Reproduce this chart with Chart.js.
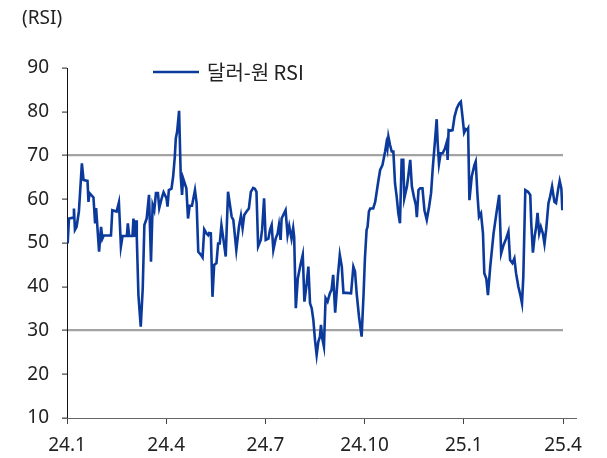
<!DOCTYPE html>
<html>
<head>
<meta charset="utf-8">
<script src="https://cdn.jsdelivr.net/npm/chart.js@4"></script>
<style>
body { margin: 0; background: #fff; }
</style>
</head>
<body>
<canvas id="Chart" width="607" height="458"></canvas>
<script>
//x positions are months since Jan 2024 (0 = 24.1, 15 = 25.4)
var months = [
    0.02,0.06,0.19,0.21,0.24,0.29,0.36,0.45,0.50,0.62,0.65,0.68,0.80,0.85,0.88,0.97,1.03,1.07,1.11,1.33,
    1.37,1.50,1.57,1.63,1.68,1.81,1.84,1.88,1.98,2.01,2.06,2.09,2.11,2.16,2.23,2.29,2.34,2.41,2.48,2.54,
    2.59,2.64,2.69,2.75,2.79,2.87,2.92,
    3.01,3.04,3.08,3.16,3.21,3.26,3.29,3.33,3.39,3.44,3.48,3.51,3.61,3.66,3.71,3.78,3.87,3.92,3.97,4.05,
    4.10,4.15,4.22,4.27,4.30,4.35,4.40,4.45,4.52,4.57,4.62,4.67,4.74,4.80,4.87,4.98,5.03,5.12,5.20,5.26,
    5.31,5.36,5.43,5.50,5.56,5.63,5.68,5.73,5.78,5.86,5.90,5.96,6.01,
    6.09,6.14,6.19,6.24,6.31,6.37,6.41,6.46,6.49,6.54,6.61,6.67,6.72,6.79,6.84,6.87,6.92,6.98,7.05,7.13,
    7.18,7.25,7.30,7.35,7.40,7.45,7.50,7.55,7.60,7.65,7.68,7.72,7.77,7.82,7.88,7.95,8.00,8.05,8.11,8.19,
    8.25,8.31,8.36,8.46,8.59,8.66,8.71,8.76,8.83,8.91,8.97,
    9.01,9.06,9.09,9.13,9.17,9.26,9.32,9.42,9.47,9.54,9.62,9.66,9.69,9.72,9.77,9.82,9.87,9.92,9.97,10.02,
    10.07,10.12,10.17,10.20,10.28,10.32,10.38,10.43,10.49,10.55,10.58,10.63,10.68,10.75,10.81,10.88,10.95,
    11.01,11.06,11.13,11.18,11.21,11.25,11.30,11.36,11.43,11.49,11.51,11.54,11.61,11.66,11.72,11.79,11.86,11.91,11.96,12.01,
    12.06,12.10,12.13,12.17,12.24,12.32,12.36,12.41,12.46,12.52,12.58,12.62,12.68,12.73,12.80,12.90,13.00,13.07,13.13,13.20,
    13.28,13.35,13.40,13.47,13.53,13.58,13.65,13.71,13.76,13.80,13.86,13.94,14.01,14.04,14.09,14.14,14.19,14.23,14.28,14.33,
    14.39,14.44,14.49,14.56,14.61,14.67,14.74,14.79,14.85,14.90,14.95,14.98
];
//dollar-won RSI value at each of the positions above
var rsi = [
    49.9,55.6,55.8,57.9,53.0,53.7,57.2,68.2,64.4,64.2,59.4,61.4,60.4,54.5,58.0,48.0,53.7,51.0,51.7,51.7,
    57.5,57.2,59.3,49.2,51.6,51.6,54.5,51.6,51.6,55.6,51.4,55.2,51.5,38.1,30.9,39.6,54.1,55.6,61.0,45.7,
    58.7,57.5,61.4,61.4,58.0,60.4,61.6,
    60.2,58.3,62.1,62.4,65.2,69.7,73.9,75.4,80.2,65.2,61.0,64.8,62.5,55.6,58.5,58.5,62.1,59.1,48.0,47.3,
    46.7,53.1,52.2,51.8,52.3,52.2,37.7,45.0,45.4,49.9,49.9,54.1,50.3,46.9,61.7,56.0,55.3,48.4,53.7,56.2,
    53.4,56.4,57.2,57.9,61.7,62.6,62.4,61.7,49.2,50.7,53.0,60.2,50.7,
    51.0,53.0,54.1,48.4,51.0,52.2,54.1,50.7,55.6,56.4,57.5,51.8,53.9,51.0,53.4,51.4,35.1,41.9,44.6,47.3,
    36.6,40.8,44.6,36.2,35.1,32.4,27.8,24.4,27.4,28.6,31.3,28.2,26.3,37.4,36.6,38.5,39.3,42.7,34.1,42.3,
    47.3,44.6,38.6,38.6,38.5,44.6,43.5,38.5,33.2,28.6,38.5,
    46.5,53.0,53.7,57.2,57.9,57.9,59.4,64.4,66.7,67.8,70.9,72.8,71.6,74.3,72.4,70.9,70.9,63.6,60.6,56.8,
    54.5,69.0,69.0,60.2,62.9,65.2,69.0,62.9,60.6,58.7,55.9,62.1,62.5,62.5,57.5,55.3,58.3,
    61.4,67.0,73.5,78.3,72.8,68.1,70.5,70.5,71.6,73.2,69.0,75.8,75.7,75.8,78.9,80.8,81.9,82.3,78.9,75.2,
    76.0,75.8,76.2,59.8,65.2,67.8,68.6,61.4,56.0,56.8,52.2,43.1,41.9,38.1,44.6,52.2,57.5,61.0,47.6,49.5,
    51.0,52.6,46.1,45.4,46.5,43.1,40.0,38.1,36.2,42.3,62.1,61.7,61.0,54.5,47.8,51.4,53.7,56.9,52.2,53.7,
    52.2,49.8,53.0,59.1,60.6,62.9,59.4,59.1,62.1,64.2,62.5,57.5
];
//x tick labels, one every 3 months
var tickLabels = ['24.1', '24.4', '24.7', '24.10', '25.1', '25.4'];
//overbought / oversold lines
var refLevels = [30, 70];
var seriesName = '달러-원 RSI';
var unitLabel = '(RSI)';

var lineColor = '#0b3a9c';
var textColor = '#222222';
var tickFont = { family: '"Noto Sans", "Open Sans", sans-serif', size: 19 };

//pairs the month positions with the rsi values for a linear x axis
var points = months.map(function (m, i) {
    return { x: m, y: rsi[i] };
});

//draws the unit label, the legend and the x axis line (which runs a bit past the plot)
var extras = {
    id: 'extras',
    afterDraw: function (chart) {
        var ctx = chart.ctx;
        var area = chart.chartArea;
        ctx.save();
        ctx.strokeStyle = '#666666';
        ctx.lineWidth = 1;
        ctx.beginPath();
        ctx.moveTo(area.left - 5, area.bottom + 0.5);
        ctx.lineTo(area.right + 14, area.bottom + 0.5);
        ctx.stroke();

        ctx.fillStyle = textColor;
        ctx.font = '19px "Noto Sans", "Noto Sans CJK KR", sans-serif';
        ctx.textBaseline = 'middle';
        ctx.textAlign = 'left';
        ctx.fillText(unitLabel, 22, 19);

        ctx.strokeStyle = lineColor;
        ctx.lineWidth = 2.5;
        ctx.beginPath();
        ctx.moveTo(153, 72);
        ctx.lineTo(199, 72);
        ctx.stroke();
        ctx.font = '20px "Noto Sans CJK KR", "Noto Sans", sans-serif';
        ctx.fillText(seriesName, 207, 72);
        ctx.restore();
    }
};

var ctx = document.getElementById('Chart').getContext('2d');
var chart = new Chart(ctx, {
    type: 'line',
    data: {
        datasets: [{
            label: seriesName,
            data: points,
            borderColor: lineColor,
            backgroundColor: lineColor,
            borderWidth: 2.6,
            pointRadius: 0,
            tension: 0,
            fill: false
        }]
    },
    options: {
        responsive: false,
        animation: false,
        layout: { padding: { top: 68, right: 44, left: 0, bottom: 0 } },
        plugins: {
            legend: { display: false },
            tooltip: { enabled: false }
        },
        scales: {
            x: {
                type: 'linear',
                min: 0,
                max: 15,
                afterFit: function (scale) { scale.height = 40; },
                afterBuildTicks: function (scale) {
                    scale.ticks = tickLabels.map(function (t, i) { return { value: i * 3 }; });
                },
                ticks: {
                    autoSkip: false,
                    maxRotation: 0,
                    padding: 10,
                    color: textColor,
                    font: tickFont,
                    callback: function (value) { return tickLabels[Math.round(value / 3)]; }
                },
                grid: { drawOnChartArea: false, tickLength: 6, tickColor: '#444444', tickWidth: 1 },
                border: { display: false }
            },
            y: {
                min: 10,
                max: 90,
                afterFit: function (scale) { scale.width = 67; },
                ticks: { stepSize: 10, padding: 13, color: textColor, font: tickFont },
                grid: {
                    //only the 30 and 70 lines are drawn across the plot
                    color: function (c) {
                        return refLevels.indexOf(c.tick.value) >= 0 ? '#a3a3a3' : 'rgba(0,0,0,0)';
                    },
                    lineWidth: 2.2,
                    tickLength: 5,
                    tickColor: '#222222',
                    tickWidth: 1
                },
                border: { color: '#111111', width: 1 }
            }
        }
    },
    plugins: [extras]
});
</script>
</body>
</html>
